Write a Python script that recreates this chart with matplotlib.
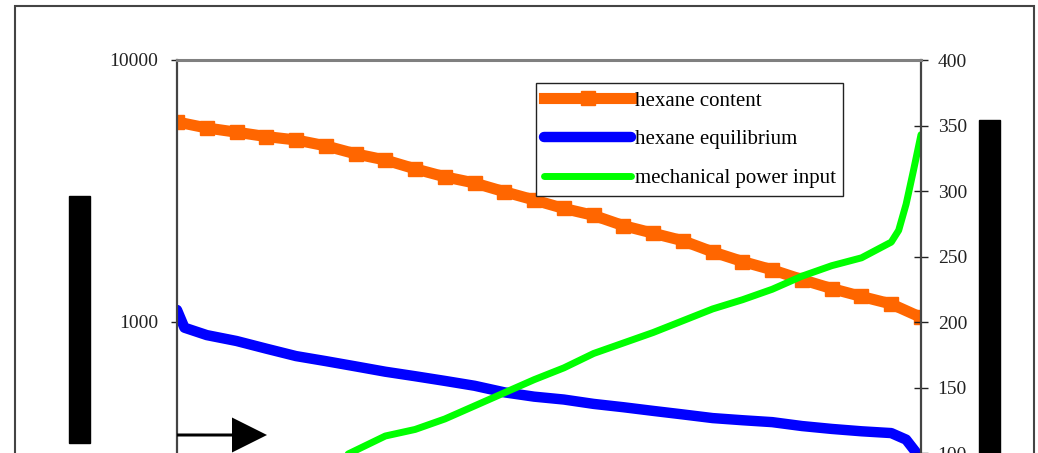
import matplotlib
matplotlib.use('Agg')
import matplotlib.pyplot as plt
from matplotlib.patches import Rectangle, FancyArrow
from matplotlib.transforms import IdentityTransform
from matplotlib.ticker import FixedLocator, FuncFormatter, NullLocator

plt.rcParams['font.family'] = ['Liberation Serif', 'DejaVu Serif']

# hexane content (left, log scale)
t_content = [0, 4, 8, 12, 16, 20, 24, 28, 32, 36, 40, 44, 48, 52, 56, 60,
             64, 68, 72, 76, 80, 84, 88, 92, 96, 100]
hexane_content = [5800, 5500, 5300, 5100, 4950, 4700, 4380, 4150, 3840, 3580,
                  3390, 3140, 2920, 2710, 2550, 2330, 2180, 2040, 1850, 1700,
                  1580, 1450, 1340, 1250, 1170, 1040]

# hexane equilibrium (left, log scale)
t_equil = [0, 1, 4, 8, 12, 16, 20, 24, 28, 32, 36, 40, 44, 48, 52, 56, 60,
           64, 68, 72, 76, 80, 84, 88, 92, 96, 98, 100]
hexane_equil = [1110, 950, 890, 845, 790, 740, 708, 676, 645, 620, 595, 570,
                538, 518, 505, 486, 472, 457, 443, 429, 421, 414, 400, 390,
                382, 376, 355, 300]

# mechanical power input (right axis)
t_power = [20, 24, 28, 32, 36, 40, 44, 48, 52, 56, 60, 64, 68, 72, 76, 80,
           84, 88, 92, 96, 97, 98, 99, 100]
power_input = [91, 102, 113, 118, 126, 136, 146, 156, 165, 176, 184, 192, 201,
               210, 217, 225, 235, 243, 249, 261, 270, 290, 316, 343]

W, H = 1038, 453
fig = plt.figure(figsize=(W / 100, H / 100), dpi=100)
ax = fig.add_axes([177 / W, -40 / H, 744 / W, 433 / H])
ax2 = ax.twinx()

l1, = ax.plot(t_content, hexane_content, color='#FF6600', lw=8, marker='s',
              ms=9.5, mec='#FF6600', label='hexane content')
l2, = ax.plot(t_equil, hexane_equil, color='#0000FF', lw=7.5,
              solid_capstyle='round', solid_joinstyle='round',
              label='hexane equilibrium')
l3, = ax2.plot(t_power, power_input, color='#00FF00', lw=5,
               solid_capstyle='round', label='mechanical power input')

ax.set_xlim(0, 100)
ax.set_xticks([])
ax.set_yscale('log')
ax.yaxis.set_major_locator(FixedLocator([100, 1000, 10000]))
ax.yaxis.set_minor_locator(NullLocator())
ax.yaxis.set_major_formatter(FuncFormatter(lambda v, p: f'{v:.0f}'))
ax.set_ylim(222, 10000)
ax.tick_params(axis='y', direction='out', length=4.5, width=1, pad=9,
               labelsize=14, colors='#222222')

ax2.set_yticks(range(50, 401, 50))
ax2.set_ylim(69.5, 400)
ax2.tick_params(axis='y', direction='inout', length=10, width=1, pad=7,
                labelsize=14, colors='#222222')

for s in ax.spines.values():
    s.set_visible(False)
ax2.spines['bottom'].set_visible(False)
ax2.spines['top'].set_color('#808080')
ax2.spines['top'].set_linewidth(2.2)
ax2.spines['left'].set_color('#444444')
ax2.spines['left'].set_linewidth(1.6)
ax2.spines['right'].set_color('#444444')
ax2.spines['right'].set_linewidth(1.6)

leg = ax2.legend([l1, l2, l3], [l.get_label() for l in [l1, l2, l3]],
                 loc='upper left', bbox_to_anchor=(536 / W, 1 - 83 / H),
                 bbox_transform=fig.transFigure, borderaxespad=0,
                 fontsize=15, handlelength=4.2, handletextpad=0.15,
                 labelspacing=0.92, borderpad=0.38, numpoints=1,
                 fancybox=False, framealpha=1, edgecolor='#222222')
leg.get_frame().set_linewidth(1)

# outer chart border
fig.add_artist(Rectangle((15, -10), 1019, 457, transform=IdentityTransform(),
                         fill=False, ec='#444444', lw=1.5))
# black bars beside the axes
fig.add_artist(Rectangle((69, H - 443), 21, 247, transform=IdentityTransform(),
                         color='black'))
fig.add_artist(Rectangle((979, -5), 21, H - 120 + 5,
                         transform=IdentityTransform(), color='black'))
# direction arrow
fig.add_artist(FancyArrow(177, H - 435, 90, 0, width=3, head_width=35,
                          head_length=35, length_includes_head=True,
                          transform=IdentityTransform(), color='black', lw=0))

fig.savefig('out.png', dpi=100)
